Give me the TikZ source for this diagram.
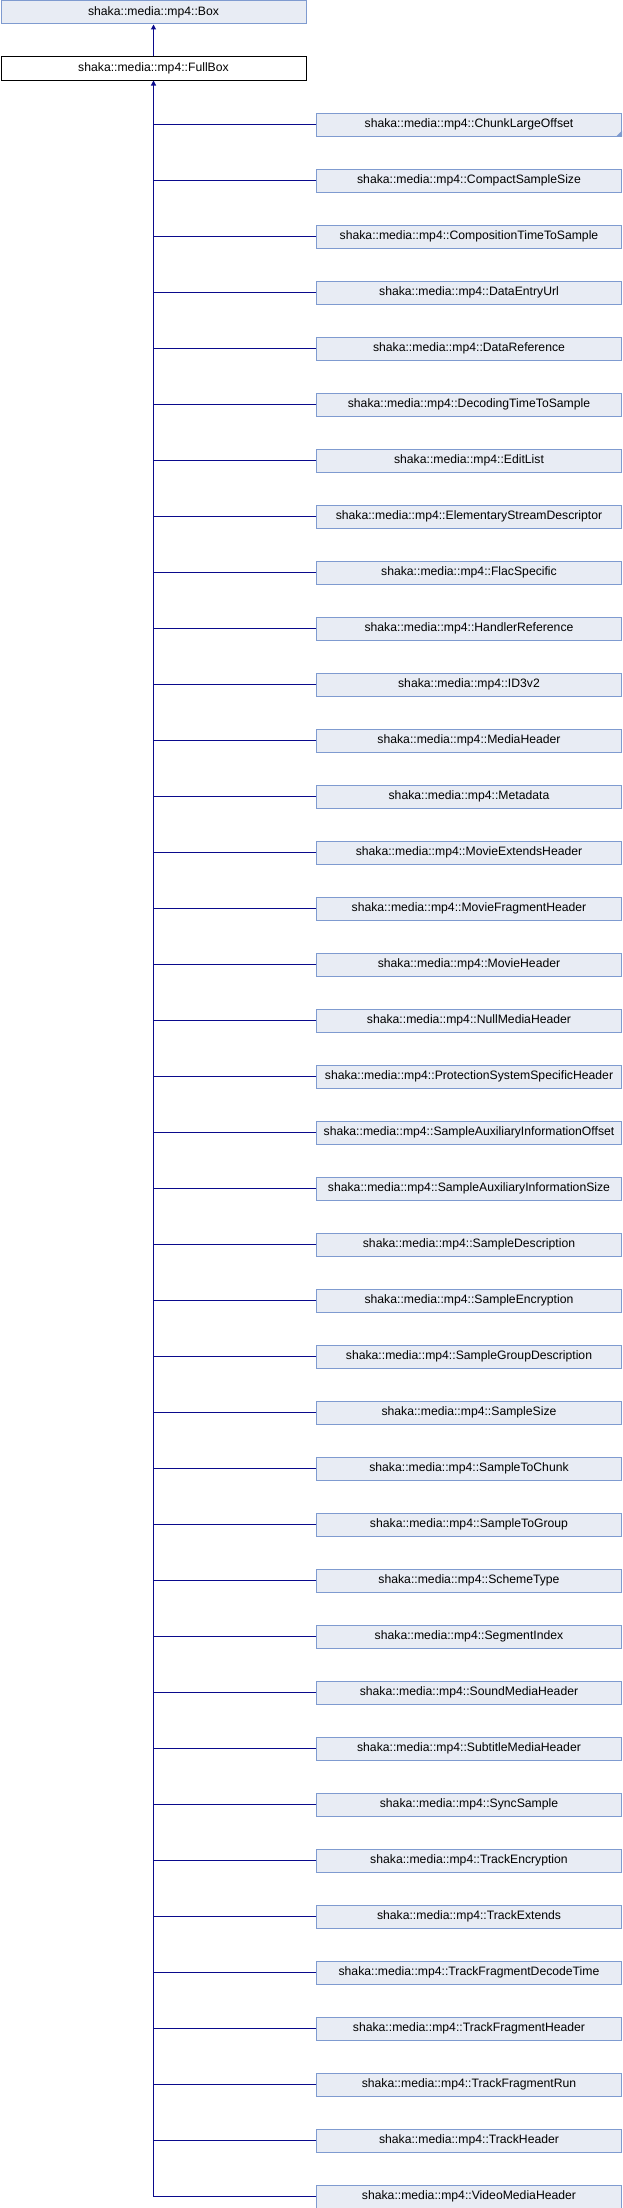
\documentclass[tikz,border=0pt]{standalone}
\usepackage{fontspec}
\setmainfont{Liberation Sans}
\usetikzlibrary{arrows.meta}
\definecolor{boxfill}{HTML}{E8ECF4}
\definecolor{boxline}{HTML}{7F9BD0}
\definecolor{linkcol}{HTML}{0A0A8C}
\tikzset{
  classbox/.style={draw=boxline, fill=boxfill, line width=1pt, minimum width=305pt, minimum height=23pt, inner sep=0pt, anchor=north west, font=\fontsize{12.2}{14}\selectfont},
  focusbox/.style={classbox, draw=black, fill=white},
  link/.style={draw=linkcol, line width=1.1pt},
  inh/.style={link, -{Triangle[length=5pt,width=5pt]}}
}
\begin{document}
\begin{tikzpicture}[x=1pt,y=1pt]
\useasboundingbox (0,0) rectangle (622,-2208);
\node[classbox] (box) at (0.5,-0.5) {shaka::media::mp4::Box};
\node[focusbox] (full) at (0.5,-56.5) {shaka::media::mp4::FullBox};
\draw[inh] (full.north) -- (box.south);
\foreach \name [count=\i from 0] in {ChunkLargeOffset,CompactSampleSize,CompositionTimeToSample,DataEntryUrl,DataReference,DecodingTimeToSample,EditList,ElementaryStreamDescriptor,FlacSpecific,HandlerReference,ID3v2,MediaHeader,Metadata,MovieExtendsHeader,MovieFragmentHeader,MovieHeader,NullMediaHeader,ProtectionSystemSpecificHeader,SampleAuxiliaryInformationOffset,SampleAuxiliaryInformationSize,SampleDescription,SampleEncryption,SampleGroupDescription,SampleSize,SampleToChunk,SampleToGroup,SchemeType,SegmentIndex,SoundMediaHeader,SubtitleMediaHeader,SyncSample,TrackEncryption,TrackExtends,TrackFragmentDecodeTime,TrackFragmentHeader,TrackFragmentRun,TrackHeader,VideoMediaHeader}{
  \node[classbox] (c\i) at (316,{-112.5-56*\i}) {shaka::media::mp4::\name};
  \draw[link] (c\i.west) -- (c\i.west -| full.south);
}
\coordinate (spineend) at (c37.west -| full.south);
\draw[inh] (spineend) -- (full.south);
\fill[boxline] (c0.south east) -- ++(-6,0) -- ++(6,6) -- cycle;
\end{tikzpicture}
\end{document}
